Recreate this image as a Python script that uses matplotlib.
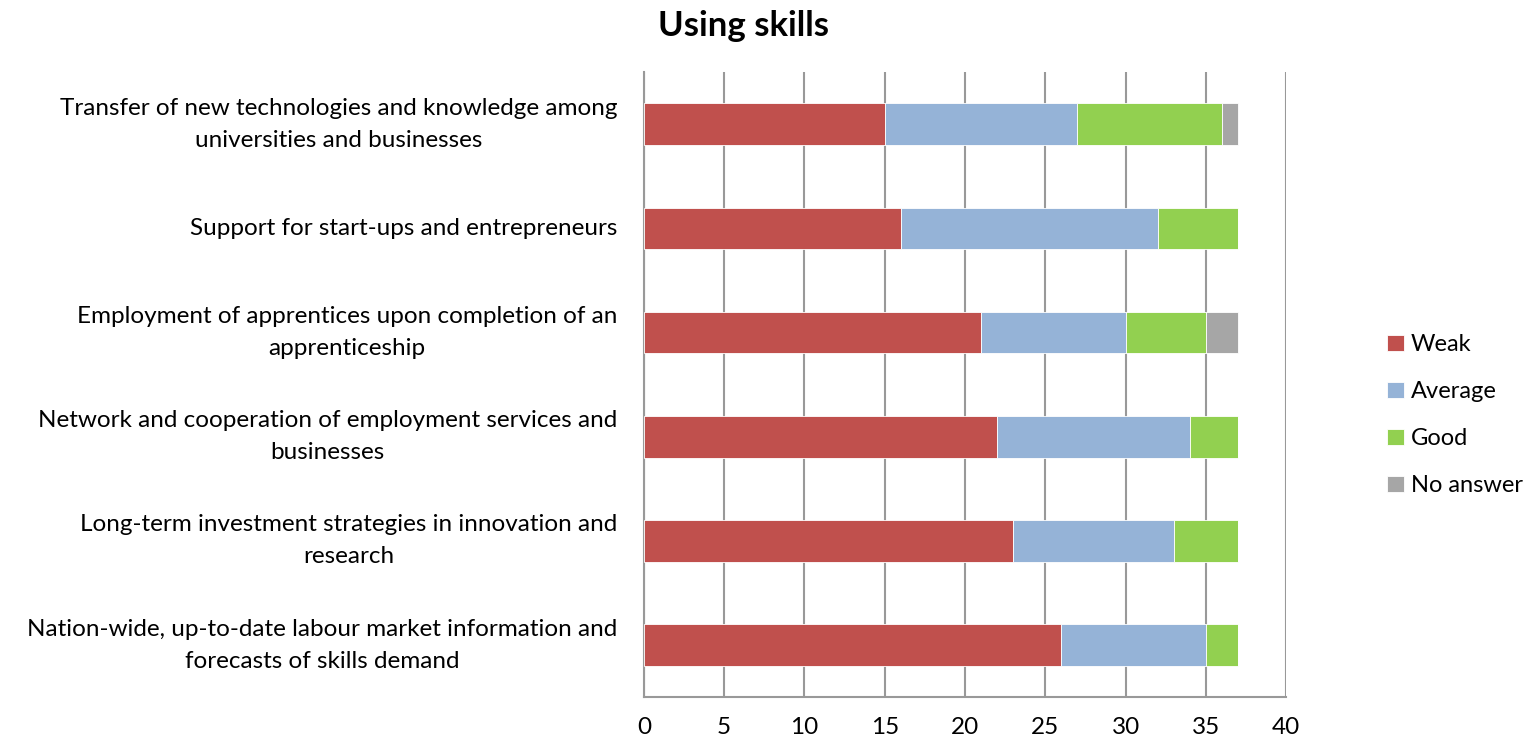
"""Stacked horizontal bars: Using skills"""

import matplotlib.pyplot as plt
import numpy as np

plt.rcParams['font.family'] = ['Lato', 'DejaVu Sans']

# Categories, top to bottom
categories = [
    "Transfer of new technologies and knowledge among\nuniversities and businesses",
    "Support for start-ups and entrepreneurs",
    "Employment of apprentices upon completion of an\napprenticeship",
    "Network and cooperation of employment services and\nbusinesses",
    "Long-term investment strategies in innovation and\nresearch",
    "Nation-wide, up-to-date labour market information and\nforecasts of skills demand",
]

weak = [15, 16, 21, 22, 23, 26]
average = [12, 16, 9, 12, 10, 9]
good = [9, 5, 5, 3, 4, 2]
no_answer = [1, 0, 2, 0, 0, 0]

series = [("Weak", weak, "#C0504D"),
          ("Average", average, "#95B3D7"),
          ("Good", good, "#92D050"),
          ("No answer", no_answer, "#A6A6A6")]

fig = plt.figure(figsize=(15.33, 7.44), dpi=100)
ax = fig.add_axes([0.42, 0.063, 0.419, 0.840])

y = np.arange(len(categories))[::-1]
left = np.zeros(len(categories))
for name, vals, col in series:
    ax.barh(y, vals, left=left, height=0.4, color=col, label=name,
            edgecolor="white", linewidth=0.6, zorder=3)
    left += np.array(vals)

ax.set_xlim(0, 40)
ax.set_ylim(-0.5, len(categories) - 0.5)
ax.set_xticks(range(0, 41, 5))
ax.set_yticks(y)
ax.set_yticklabels(categories, ma="center", va="center", linespacing=1.65)
ax.tick_params(axis="both", length=0, labelsize=17.5)
ax.tick_params(axis="x", pad=14)
ax.tick_params(axis="y", pad=19)

# Vertical gridlines only
ax.grid(axis="x", color="#999999", linewidth=1.5, zorder=0)
for side in ["top", "right"]:
    ax.spines[side].set_visible(False)
for side in ["left", "bottom"]:
    ax.spines[side].set_color("#999999")
    ax.spines[side].set_linewidth(1.5)

fig.text(0.485, 0.965, "Using skills", ha="center", va="center",
         fontsize=25, fontweight="bold")

ax.legend(loc="center left", bbox_to_anchor=(1.124, 0.451), frameon=False,
          fontsize=17, handlelength=0.7, handleheight=0.7, handletextpad=0.3,
          labelspacing=1.1)

fig.savefig("out.png", dpi=100)
